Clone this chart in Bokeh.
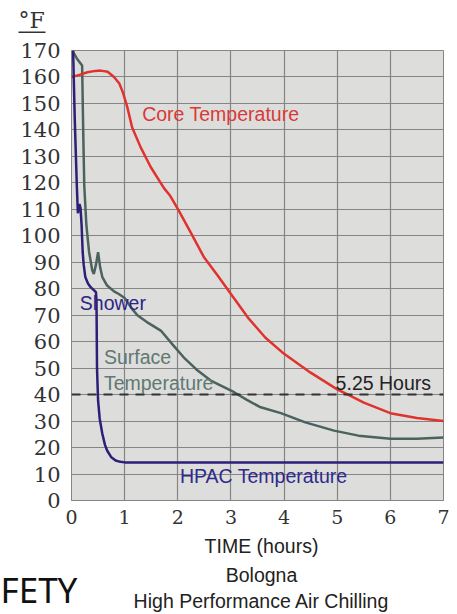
from bokeh.plotting import figure
from bokeh.models import Range1d, FixedTicker, Label, Span
from bokeh.layouts import column
from bokeh.embed import file_html
from bokeh.resources import INLINE

# ---- data ----
hours_core = [0.0, 0.15, 0.3, 0.45, 0.55, 0.68, 0.8, 0.9, 0.97, 1.05, 1.14, 1.3, 1.49,
              1.74, 1.86, 2.0, 2.25, 2.49, 2.75, 3.0, 3.34, 3.65, 4.0, 4.5, 5.0, 5.25,
              5.5, 6.0, 6.5, 7.0]
core_temp = [160, 160.8, 161.8, 162.3, 162.4, 162, 160, 157.5, 154, 148.6, 141, 133.5, 126,
             118, 115, 110.2, 101, 92, 85, 78, 68.6, 61.5, 55.4, 48.3, 42, 39.5,
             37, 33, 31.2, 30.0]

hours_surface = [0.03, 0.1, 0.2, 0.22, 0.24, 0.28, 0.33, 0.39, 0.42, 0.46, 0.5, 0.54, 0.58,
                 0.67, 0.8, 0.89, 1.0, 1.14, 1.24, 1.45, 1.68, 1.9, 2.11, 2.35, 2.62, 2.85,
                 3.06, 3.3, 3.56, 3.94, 4.4, 4.94, 5.4, 6.0, 6.5, 7.0]
surface_temp = [169.5, 167, 164.3, 140, 119, 104, 94, 87, 85.6, 89, 93.8, 88, 84.4,
                81.2, 79, 78, 76.5, 72.4, 70, 67, 64.2, 59, 54.1, 49.5, 45.3, 43,
                40.9, 38, 35.2, 33, 29.5, 26.4, 24.5, 23.3, 23.3, 23.8]

hours_hpac = [0.03, 0.06, 0.1, 0.12, 0.15, 0.17, 0.19, 0.21, 0.23, 0.26, 0.31, 0.36, 0.42,
              0.46, 0.47, 0.48, 0.5, 0.53, 0.58, 0.63, 0.67, 0.75, 0.83, 0.92, 1.0, 7.0]
hpac_temp = [170, 145, 119, 108.5, 112, 110.5, 104, 94, 89, 84.4, 82, 80.6, 79.5,
             78.7, 76, 50, 37.8, 31, 25.2, 21, 18.9, 16.3, 15.1, 14.6, 14.4, 14.4]

safe_temp = 40
x_ticks = [0, 1, 2, 3, 4, 5, 6, 7]
y_ticks = [0, 10, 20, 30, 40, 50, 60, 70, 80, 90, 100, 110, 120, 130, 140, 150, 160, 170]

GRID = "#858585"
W = 457


def blank(height):
    f = figure(width=W, height=height, output_backend="svg", toolbar_location=None,
               x_range=Range1d(0, W), y_range=Range1d(0, height),
               x_axis_type=None, y_axis_type=None,
               min_border=0, min_border_left=0, min_border_right=0,
               min_border_top=0, min_border_bottom=0)
    f.frame_align = False
    f.grid.visible = False
    f.outline_line_color = None
    f.background_fill_color = "white"
    f.border_fill_color = "white"
    return f


def lab(fig, x, y, text, color, size="19.5px", font="Liberation Sans", align="left"):
    fig.add_layout(Label(x=x, y=y, text=text, text_color=color, text_font_size=size,
                         text_font=font, text_align=align, text_baseline="middle"))


# ---- top strip: unit label ----
top = blank(38)
lab(top, 18, 17.8, "°F", "#333333", size="22px", font="DejaVu Serif")
top.segment(x0=[18], y0=[6.3], x1=[45], y1=[6.3], line_color="#333333", line_width=1.5)

# ---- main chart ----
p = figure(width=W, height=496, output_backend="svg", toolbar_location=None,
           x_range=Range1d(0, 7), y_range=Range1d(0, 170),
           min_border_left=71, min_border_right=14, min_border_top=12, min_border_bottom=34)
p.frame_align = False
p.background_fill_color = "#dddddc"
p.border_fill_color = "white"
p.outline_line_color = GRID
p.outline_line_width = 1

p.xgrid.ticker = FixedTicker(ticks=x_ticks)
p.ygrid.ticker = FixedTicker(ticks=y_ticks)
for g in (p.xgrid, p.ygrid):
    g.grid_line_color = GRID
    g.grid_line_width = 1.2

p.xaxis.ticker = FixedTicker(ticks=x_ticks)
p.yaxis.ticker = FixedTicker(ticks=y_ticks)
p.xaxis.axis_line_color = None
p.yaxis.axis_line_color = None
p.yaxis.major_tick_line_color = None
p.yaxis.major_tick_out = 0
p.yaxis.major_tick_in = 0
p.xaxis.major_tick_in = 7
p.xaxis.major_tick_out = 0
p.xaxis.major_tick_line_color = GRID
p.xaxis.minor_tick_line_color = None
p.yaxis.minor_tick_line_color = None
p.yaxis.major_label_text_font = "DejaVu Serif"
p.yaxis.major_label_text_font_size = "21px"
p.yaxis.major_label_text_color = "#333333"
p.yaxis.major_label_standoff = 11
p.xaxis.major_label_text_font = "DejaVu Serif"
p.xaxis.major_label_text_font_size = "19px"
p.xaxis.major_label_text_color = "#333333"
p.xaxis.major_label_standoff = 9

p.add_layout(Span(location=safe_temp, dimension="width", line_color="#333333",
                  line_width=2, line_dash="9 7"))

p.line(hours_surface, surface_temp, line_color="#4b625e", line_width=2.5)
p.line(hours_core, core_temp, line_color="#e0332e", line_width=2.5)
p.line(hours_hpac, hpac_temp, line_color="#2b1f78", line_width=2.5)

lab(p, 1.33, 146.0, "Core Temperature", "#d93a38")
lab(p, 0.156, 74.6, "Shower", "#2e2585")
lab(p, 0.61, 54.1, "Surface", "#5f7873")
lab(p, 0.61, 44.4, "Temperature", "#5f7873")
lab(p, 4.97, 44.4, "5.25 Hours", "#222222")
lab(p, 2.04, 9.3, "HPAC Temperature", "#2e2a8c")

# ---- bottom strip: captions ----
bottom = blank(80)
lab(bottom, 261, 68.2, "TIME (hours)", "#222222", align="center")
lab(bottom, 261, 39.5, "Bologna", "#222222", align="center")
lab(bottom, 261, 13.5, "High Performance Air Chilling", "#222222", align="center")
lab(bottom, 0, 25, "FETY", "#111111", size="35px", font="Noto Sans")

layout = column(top, p, bottom, spacing=0)
open("out.html", "w").write(file_html(layout, INLINE))
